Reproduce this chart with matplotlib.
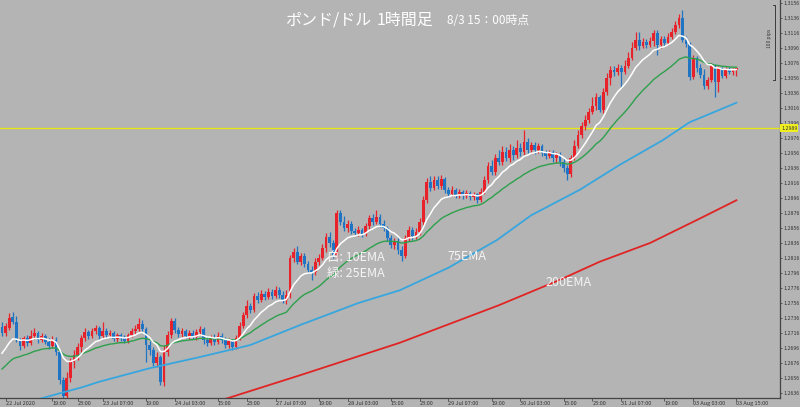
import matplotlib
matplotlib.use('Agg')
import matplotlib.pyplot as plt

plt.rcParams['font.family'] = ['Noto Sans CJK JP', 'DejaVu Sans']

# GBP/USD 1h candles, 22 Jul 2020 03:00 .. 03 Aug 2020 15:00 (server time)
opens = [
    1.2724, 1.2716, 1.2723, 1.2737, 1.2731, 1.2707, 1.2699, 1.2709, 1.2703, 1.2712,
    1.2716, 1.2707, 1.2712, 1.2704, 1.2699, 1.2707, 1.2691, 1.2653, 1.2632, 1.2656,
    1.2677, 1.2687, 1.2697, 1.2709, 1.2717, 1.2712, 1.2719, 1.2723, 1.2712, 1.2719,
    1.2713, 1.2716, 1.2708, 1.2713, 1.2709, 1.2705, 1.2713, 1.2719, 1.2721, 1.2728,
    1.2721, 1.2700, 1.2693, 1.2676, 1.2684, 1.2651, 1.2691, 1.2713, 1.2732, 1.2720,
    1.2715, 1.2719, 1.2712, 1.2716, 1.2711, 1.2717, 1.2721, 1.2707, 1.2703, 1.2709,
    1.2704, 1.2712, 1.2707, 1.2700, 1.2705, 1.2697, 1.2709, 1.2725, 1.2740, 1.2752,
    1.2747, 1.2765, 1.2760, 1.2768, 1.2764, 1.2771, 1.2765, 1.2773, 1.2767, 1.2760,
    1.2767, 1.2816, 1.2824, 1.2811, 1.2819, 1.2808, 1.2800, 1.2797, 1.2811, 1.2816,
    1.2829, 1.2844, 1.2836, 1.2820, 1.2876, 1.2864, 1.2856, 1.2861, 1.2852, 1.2849,
    1.2853, 1.2848, 1.2859, 1.2869, 1.2864, 1.2871, 1.2861, 1.2856, 1.2843, 1.2833,
    1.2839, 1.2827, 1.2819, 1.2843, 1.2853, 1.2845, 1.2851, 1.2864, 1.2893, 1.2917,
    1.2909, 1.2920, 1.2912, 1.2921, 1.2907, 1.2901, 1.2907, 1.2900, 1.2904, 1.2899,
    1.2903, 1.2897, 1.2901, 1.2893, 1.2904, 1.2920, 1.2939, 1.2931, 1.2949, 1.2944,
    1.2957, 1.2949, 1.2960, 1.2953, 1.2963, 1.2957, 1.2971, 1.2960, 1.2967, 1.2960,
    1.2965, 1.2956, 1.2952, 1.2957, 1.2949, 1.2953, 1.2944, 1.2936, 1.2928, 1.2949,
    1.2965, 1.2980, 1.2992, 1.3000, 1.3011, 1.3019, 1.3031, 1.3013, 1.3037, 1.3056,
    1.3067, 1.3064, 1.3069, 1.3064, 1.3072, 1.3083, 1.3096, 1.3107, 1.3099, 1.3104,
    1.3100, 1.3105, 1.3116, 1.3100, 1.3108, 1.3103, 1.3111, 1.3117, 1.3127, 1.3136,
    1.3107, 1.3101, 1.3057, 1.3083, 1.3069, 1.3060, 1.3045, 1.3053, 1.3072, 1.3051,
    1.3069, 1.3059, 1.3068, 1.3064, 1.3067,
]
closes = [
    1.2716, 1.2725, 1.2736, 1.2731, 1.2707, 1.2699, 1.2709, 1.2703, 1.2712, 1.2716,
    1.2707, 1.2712, 1.2704, 1.2699, 1.2707, 1.2691, 1.2653, 1.2632, 1.2656, 1.2677,
    1.2687, 1.2697, 1.2709, 1.2717, 1.2712, 1.2719, 1.2723, 1.2712, 1.2719, 1.2713,
    1.2716, 1.2708, 1.2713, 1.2709, 1.2705, 1.2713, 1.2719, 1.2721, 1.2728, 1.2721,
    1.2700, 1.2693, 1.2676, 1.2684, 1.2651, 1.2691, 1.2713, 1.2732, 1.2720, 1.2715,
    1.2719, 1.2712, 1.2716, 1.2711, 1.2717, 1.2721, 1.2707, 1.2703, 1.2709, 1.2704,
    1.2712, 1.2707, 1.2700, 1.2705, 1.2697, 1.2709, 1.2725, 1.2740, 1.2752, 1.2747,
    1.2765, 1.2760, 1.2768, 1.2764, 1.2771, 1.2765, 1.2773, 1.2767, 1.2760, 1.2767,
    1.2816, 1.2824, 1.2811, 1.2819, 1.2808, 1.2800, 1.2797, 1.2811, 1.2816, 1.2829,
    1.2844, 1.2836, 1.2820, 1.2876, 1.2864, 1.2856, 1.2861, 1.2852, 1.2849, 1.2853,
    1.2848, 1.2859, 1.2869, 1.2864, 1.2871, 1.2861, 1.2856, 1.2843, 1.2833, 1.2839,
    1.2827, 1.2819, 1.2843, 1.2853, 1.2845, 1.2851, 1.2864, 1.2893, 1.2917, 1.2909,
    1.2920, 1.2912, 1.2921, 1.2907, 1.2901, 1.2907, 1.2900, 1.2904, 1.2899, 1.2903,
    1.2897, 1.2901, 1.2893, 1.2904, 1.2920, 1.2939, 1.2931, 1.2949, 1.2944, 1.2957,
    1.2949, 1.2960, 1.2953, 1.2963, 1.2957, 1.2971, 1.2960, 1.2967, 1.2960, 1.2965,
    1.2956, 1.2952, 1.2957, 1.2949, 1.2953, 1.2944, 1.2936, 1.2928, 1.2949, 1.2965,
    1.2980, 1.2992, 1.3000, 1.3011, 1.3019, 1.3031, 1.3013, 1.3037, 1.3056, 1.3067,
    1.3064, 1.3069, 1.3064, 1.3072, 1.3083, 1.3096, 1.3107, 1.3099, 1.3104, 1.3100,
    1.3105, 1.3116, 1.3100, 1.3108, 1.3103, 1.3111, 1.3117, 1.3127, 1.3136, 1.3107,
    1.3101, 1.3057, 1.3083, 1.3069, 1.3060, 1.3045, 1.3053, 1.3072, 1.3051, 1.3069,
    1.3059, 1.3068, 1.3064, 1.3067, 1.3069,
]
highs = [
    1.2731, 1.2729, 1.2743, 1.2744, 1.2739, 1.2709, 1.2712, 1.2713, 1.2720, 1.2723,
    1.2719, 1.2716, 1.2715, 1.2709, 1.2712, 1.2711, 1.2693, 1.2657, 1.2664, 1.2683,
    1.2693, 1.2703, 1.2713, 1.2723, 1.2720, 1.2723, 1.2727, 1.2725, 1.2731, 1.2723,
    1.2720, 1.2719, 1.2716, 1.2716, 1.2713, 1.2716, 1.2723, 1.2727, 1.2736, 1.2733,
    1.2724, 1.2705, 1.2697, 1.2691, 1.2687, 1.2700, 1.2719, 1.2736, 1.2736, 1.2724,
    1.2723, 1.2721, 1.2720, 1.2720, 1.2721, 1.2725, 1.2724, 1.2712, 1.2713, 1.2715,
    1.2717, 1.2716, 1.2711, 1.2709, 1.2708, 1.2713, 1.2731, 1.2744, 1.2760, 1.2756,
    1.2769, 1.2771, 1.2773, 1.2772, 1.2776, 1.2775, 1.2779, 1.2777, 1.2772, 1.2773,
    1.2820, 1.2829, 1.2832, 1.2823, 1.2823, 1.2812, 1.2805, 1.2816, 1.2821, 1.2835,
    1.2849, 1.2851, 1.2840, 1.2880, 1.2880, 1.2872, 1.2867, 1.2865, 1.2856, 1.2859,
    1.2856, 1.2863, 1.2873, 1.2875, 1.2880, 1.2875, 1.2867, 1.2859, 1.2847, 1.2843,
    1.2843, 1.2832, 1.2847, 1.2859, 1.2857, 1.2856, 1.2869, 1.2899, 1.2923, 1.2925,
    1.2925, 1.2925, 1.2927, 1.2924, 1.2911, 1.2912, 1.2909, 1.2908, 1.2907, 1.2907,
    1.2905, 1.2904, 1.2903, 1.2909, 1.2925, 1.2944, 1.2947, 1.2955, 1.2960, 1.2965,
    1.2964, 1.2968, 1.2965, 1.2973, 1.2969, 1.2987, 1.2976, 1.2971, 1.2971, 1.2969,
    1.2968, 1.2960, 1.2960, 1.2960, 1.2957, 1.2957, 1.2949, 1.2940, 1.2953, 1.2973,
    1.2987, 1.2997, 1.3007, 1.3016, 1.3031, 1.3036, 1.3033, 1.3043, 1.3063, 1.3072,
    1.3072, 1.3075, 1.3073, 1.3080, 1.3091, 1.3104, 1.3117, 1.3117, 1.3109, 1.3108,
    1.3111, 1.3120, 1.3120, 1.3112, 1.3112, 1.3116, 1.3123, 1.3132, 1.3141, 1.3147,
    1.3112, 1.3104, 1.3087, 1.3085, 1.3075, 1.3068, 1.3057, 1.3076, 1.3075, 1.3072,
    1.3071, 1.3071, 1.3071, 1.3069, 1.3071,
]
lows = [
    1.2712, 1.2712, 1.2720, 1.2728, 1.2704, 1.2693, 1.2696, 1.2699, 1.2700, 1.2708,
    1.2703, 1.2704, 1.2701, 1.2695, 1.2696, 1.2687, 1.2648, 1.2627, 1.2628, 1.2651,
    1.2669, 1.2680, 1.2691, 1.2705, 1.2708, 1.2709, 1.2715, 1.2708, 1.2709, 1.2709,
    1.2711, 1.2705, 1.2704, 1.2705, 1.2703, 1.2703, 1.2711, 1.2715, 1.2719, 1.2717,
    1.2677, 1.2687, 1.2672, 1.2671, 1.2647, 1.2645, 1.2685, 1.2709, 1.2716, 1.2711,
    1.2711, 1.2709, 1.2708, 1.2708, 1.2707, 1.2713, 1.2701, 1.2699, 1.2700, 1.2700,
    1.2701, 1.2703, 1.2696, 1.2696, 1.2693, 1.2695, 1.2707, 1.2723, 1.2736, 1.2743,
    1.2744, 1.2756, 1.2757, 1.2760, 1.2761, 1.2761, 1.2763, 1.2763, 1.2756, 1.2755,
    1.2763, 1.2811, 1.2808, 1.2807, 1.2804, 1.2796, 1.2787, 1.2793, 1.2807, 1.2813,
    1.2824, 1.2831, 1.2816, 1.2816, 1.2860, 1.2852, 1.2851, 1.2848, 1.2845, 1.2845,
    1.2844, 1.2845, 1.2855, 1.2860, 1.2861, 1.2857, 1.2852, 1.2839, 1.2829, 1.2828,
    1.2821, 1.2812, 1.2816, 1.2839, 1.2840, 1.2841, 1.2847, 1.2860, 1.2889, 1.2905,
    1.2907, 1.2908, 1.2908, 1.2903, 1.2897, 1.2899, 1.2896, 1.2896, 1.2895, 1.2896,
    1.2893, 1.2893, 1.2889, 1.2891, 1.2901, 1.2916, 1.2927, 1.2927, 1.2940, 1.2940,
    1.2945, 1.2944, 1.2947, 1.2949, 1.2952, 1.2953, 1.2956, 1.2956, 1.2955, 1.2956,
    1.2952, 1.2948, 1.2949, 1.2944, 1.2943, 1.2939, 1.2931, 1.2920, 1.2924, 1.2947,
    1.2963, 1.2976, 1.2987, 1.2996, 1.3008, 1.3013, 1.3011, 1.3009, 1.3033, 1.3047,
    1.3059, 1.3060, 1.3043, 1.3061, 1.3069, 1.3080, 1.3093, 1.3093, 1.3096, 1.3096,
    1.3097, 1.3099, 1.3087, 1.3096, 1.3099, 1.3100, 1.3108, 1.3115, 1.3123, 1.3104,
    1.3097, 1.3053, 1.3055, 1.3064, 1.3056, 1.3041, 1.3041, 1.3051, 1.3031, 1.3037,
    1.3056, 1.3056, 1.3061, 1.3060, 1.3059,
]

# short EMAs start values read at the first bar
ema10_start = 1.2683
ema25_start = 1.2664

# long EMAs (bar index, price)
ema75_bar = [8, 22.5, 27, 41, 55, 69, 83, 99, 110.5, 124, 137.5, 147, 160.5, 171.5, 183.5, 191, 204]
ema75_val = [1.2625, 1.2644, 1.2651, 1.2669, 1.2684, 1.2700, 1.2727, 1.2756, 1.2773,
             1.2803, 1.2840, 1.2873, 1.2907, 1.2940, 1.2973, 1.2997, 1.3023]
ema200_bar = [60, 83, 110.5, 138, 155, 166, 180, 194, 204]
ema200_val = [1.2625, 1.2660, 1.2703, 1.2753, 1.2787, 1.2811, 1.2836, 1.2869, 1.2893]

hline_price = 1.29893

time_ticks = [1, 14, 21, 28, 40, 48, 60, 68, 76, 88, 96, 108, 116, 124, 136, 144, 156, 164, 172, 184, 192, 204]
time_labels = ['22 Jul 2020', '19:00', '23:00', '23 Jul 07:00', '19:00', '24 Jul 03:00',
               '15:00', '23:00', '27 Jul 07:00', '19:00', '28 Jul 03:00', '15:00', '23:00',
               '29 Jul 07:00', '19:00', '30 Jul 03:00', '15:00', '23:00', '31 Jul 07:00',
               '19:00', '03 Aug 03:00', '03 Aug 15:00']

price_ticks = [1.3156 - 0.002 * k for k in range(27)]


def ema(values, period, start):
    k = 2 / (period + 1)
    out = []
    e = start
    for v in values:
        e = e + k * (v - e)
        out.append(e)
    return out


bg = '#b4b4b4'
up_col = '#e8222a'
dn_col = '#2074c4'

fig = plt.figure(figsize=(8.0, 4.07), dpi=100, facecolor=bg)
ax = fig.add_axes([0, 9 / 407, 780 / 800, 398 / 407], facecolor=bg)

bars = range(len(closes))
for i in bars:
    o, c = opens[i], closes[i]
    col = up_col if c >= o else dn_col
    ax.vlines(i, lows[i], highs[i], color=col, lw=0.9, zorder=2)
    ax.bar(i, max(abs(c - o), 0.00003), bottom=min(o, c), width=0.74,
           color=col, lw=0, zorder=3)

ax.plot(ema200_bar, ema200_val, color='#e02424', lw=1.3, zorder=4)
ax.plot(ema75_bar, ema75_val, color='#38a6de', lw=1.3, zorder=4)
ax.plot(bars, ema(closes, 25, ema25_start), color='#2ea04c', lw=1.0, zorder=5)
ax.plot(bars, ema(closes, 10, ema10_start), color='white', lw=1.1, zorder=6)

ax.axhline(hline_price, color='#e6e619', lw=1.0, zorder=1)

top = 1.3160
ax.set_xlim(-0.556, 216.1)
ax.set_ylim(top - 398 / 7500, top)

# 100 pips scale bar
sx = 214.7
ax.plot([sx, sx], [top - 5 / 7500, top - 80 / 7500], color='#3c3c3c', lw=0.7)
ax.plot([sx - 0.5, sx], [top - 5 / 7500] * 2, color='#3c3c3c', lw=0.7)
ax.plot([sx - 0.5, sx], [top - 80 / 7500] * 2, color='#3c3c3c', lw=0.7)
ax.text(sx - 1.6, top - 38 / 7500, '100 pips', rotation=90, fontsize=3.5,
        color='#333333', ha='center', va='center')

for s in ['top', 'left']:
    ax.spines[s].set_visible(False)
for s in ['right', 'bottom']:
    ax.spines[s].set_color('#444444')
    ax.spines[s].set_linewidth(0.9)

ax.yaxis.tick_right()
ax.set_yticks(price_ticks)
ax.set_yticklabels(['%.4f' % p for p in price_ticks])
ax.tick_params(axis='y', labelsize=3.8, colors='#333333', length=1.5, pad=1, width=0.5)
ax.set_xticks(time_ticks)
ax.set_xticklabels(time_labels)
for lab in ax.get_xticklabels():
    lab.set_ha('left')
ax.tick_params(axis='x', labelsize=4, colors='#333333', length=2, pad=0.5, width=0.5)

# line label on the price scale
fig.text(781 / 800, 1 - 128 / 407, '%.4f' % hline_price, fontsize=3.8, color='#333333',
         va='center', ha='left',
         bbox=dict(boxstyle='square,pad=0.2', fc='#f0f020', ec='none'))

# title
fig.text(285 / 800, 1 - 20 / 407, 'ポンド/ドル', fontsize=11.5, color='white', va='center')
fig.text(377 / 800, 1 - 20 / 407, '1時間足', fontsize=11.5, color='white', va='center')
fig.text(447 / 800, 1 - 21 / 407, '8/3 15：00時点', fontsize=8.5, color='white', va='center')

# EMA notes
lab_col = '#f4f4f4'
fig.text(327 / 800, 1 - 257 / 407, '白: 10EMA', fontsize=9, color=lab_col, va='center')
fig.text(327 / 800, 1 - 273 / 407, '緑: 25EMA', fontsize=9, color=lab_col, va='center')
fig.text(447 / 800, 1 - 257 / 407, '75EMA', fontsize=9, color=lab_col, va='center')
fig.text(545 / 800, 1 - 283 / 407, '200EMA', fontsize=9, color=lab_col, va='center')

fig.savefig('out.png', dpi=100, facecolor=bg)
